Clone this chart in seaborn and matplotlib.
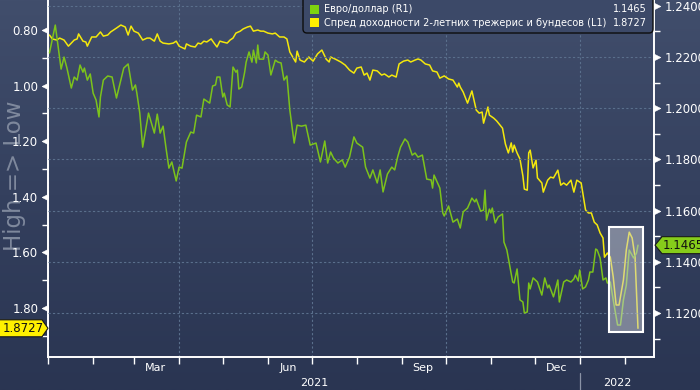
import numpy as np
import pandas as pd
import matplotlib
matplotlib.use("Agg")
import matplotlib.pyplot as plt
import matplotlib.dates as mdates
import matplotlib.transforms as mtransforms
from matplotlib.path import Path
from matplotlib.markers import MarkerStyle
from matplotlib.patches import Polygon, Rectangle, FancyBboxPatch
from matplotlib.colors import LinearSegmentedColormap
from matplotlib.ticker import FixedLocator, FormatStrFormatter, NullFormatter
import seaborn as sns

# ---------------- data ----------------
eur_dates = [
    "2021-01-02", "2021-01-06", "2021-01-10", "2021-01-12", "2021-01-14", "2021-01-17", "2021-01-19",
    "2021-01-21", "2021-01-23", "2021-01-25", "2021-01-26", "2021-01-28", "2021-01-30", "2021-02-01",
    "2021-02-03", "2021-02-05", "2021-02-06", "2021-02-08", "2021-02-11", "2021-02-14", "2021-02-17",
    "2021-02-22", "2021-02-25", "2021-02-28", "2021-03-02", "2021-03-03", "2021-03-05", "2021-03-07",
    "2021-03-09", "2021-03-11", "2021-03-15", "2021-03-17", "2021-03-19", "2021-03-21", "2021-03-23",
    "2021-03-25", "2021-03-27", "2021-03-30", "2021-04-01", "2021-04-03", "2021-04-06", "2021-04-09",
    "2021-04-11", "2021-04-13", "2021-04-16", "2021-04-18", "2021-04-22", "2021-04-24", "2021-04-26",
    "2021-04-27", "2021-04-29", "2021-05-01", "2021-05-02", "2021-05-04", "2021-05-06", "2021-05-08",
    "2021-05-10", "2021-05-11", "2021-05-12", "2021-05-14", "2021-05-16", "2021-05-17", "2021-05-19",
    "2021-05-21", "2021-05-22", "2021-05-24", "2021-05-25", "2021-05-26", "2021-05-29", "2021-05-30",
    "2021-06-01", "2021-06-03", "2021-06-06", "2021-06-08", "2021-06-10", "2021-06-12", "2021-06-14",
    "2021-06-16", "2021-06-19", "2021-06-21", "2021-06-24", "2021-06-27", "2021-06-30", "2021-07-04",
    "2021-07-07", "2021-07-10", "2021-07-12", "2021-07-14", "2021-07-16", "2021-07-19", "2021-07-22",
    "2021-07-24", "2021-07-27", "2021-07-30", "2021-08-01", "2021-08-05", "2021-08-07", "2021-08-10",
    "2021-08-12", "2021-08-15", "2021-08-17", "2021-08-19", "2021-08-22", "2021-08-25", "2021-08-27",
    "2021-08-29", "2021-08-31", "2021-09-03", "2021-09-05", "2021-09-08", "2021-09-10", "2021-09-12",
    "2021-09-15", "2021-09-18", "2021-09-21", "2021-09-22", "2021-09-23", "2021-09-27", "2021-09-29",
    "2021-09-30", "2021-10-03", "2021-10-06", "2021-10-09", "2021-10-11", "2021-10-13", "2021-10-16",
    "2021-10-19", "2021-10-21", "2021-10-22", "2021-10-25", "2021-10-27", "2021-10-28", "2021-10-29",
    "2021-10-31", "2021-11-01", "2021-11-02", "2021-11-04", "2021-11-06", "2021-11-09", "2021-11-10",
    "2021-11-12", "2021-11-16", "2021-11-17", "2021-11-19", "2021-11-21", "2021-11-23", "2021-11-24",
    "2021-11-26", "2021-11-27", "2021-11-28", "2021-11-30", "2021-12-03", "2021-12-06", "2021-12-08",
    "2021-12-10", "2021-12-11", "2021-12-14", "2021-12-17", "2021-12-18", "2021-12-21", "2021-12-23",
    "2021-12-26", "2021-12-28", "2021-12-29", "2021-12-31", "2022-01-01", "2022-01-03", "2022-01-05",
    "2022-01-07", "2022-01-08", "2022-01-10", "2022-01-12", "2022-01-13", "2022-01-15", "2022-01-17",
    "2022-01-19", "2022-01-20", "2022-01-22", "2022-01-24", "2022-01-27", "2022-01-29", "2022-01-31",
    "2022-02-02", "2022-02-04", "2022-02-07", "2022-02-09", "2022-02-10",
]
eur_values = [
    1.2216, 1.2325, 1.2153, 1.2200, 1.2157, 1.2079, 1.2122,
    1.2110, 1.2169, 1.2141, 1.2157, 1.2110, 1.2134, 1.2059,
    1.2032, 1.1966, 1.2044, 1.2110, 1.2126, 1.2122, 1.2040,
    1.2157, 1.2173, 1.2071, 1.2091, 1.2059, 1.1981, 1.1848,
    1.1915, 1.1981, 1.1903, 1.1977, 1.1903, 1.1930, 1.1845,
    1.1766, 1.1790, 1.1716, 1.1770, 1.1766, 1.1868, 1.1907,
    1.1903, 1.1973, 1.1966, 1.2036, 1.2020, 1.2087, 1.2091,
    1.2122, 1.2122, 1.2044, 1.2059, 1.2013, 1.2005, 1.2161,
    1.2141, 1.2149, 1.2075, 1.2083, 1.2141, 1.2180, 1.2220,
    1.2180, 1.2227, 1.2177, 1.2247, 1.2192, 1.2192, 1.2220,
    1.2208, 1.2130, 1.2188, 1.2180, 1.2177, 1.2110, 1.2126,
    1.1993, 1.1864, 1.1934, 1.1930, 1.1934, 1.1856, 1.1864,
    1.1790, 1.1872, 1.1786, 1.1829, 1.1805, 1.1786, 1.1798,
    1.1770, 1.1809, 1.1888, 1.1864, 1.1848, 1.1770, 1.1727,
    1.1759, 1.1708, 1.1759, 1.1673, 1.1743, 1.1770, 1.1759,
    1.1809, 1.1848, 1.1880, 1.1868, 1.1817, 1.1825, 1.1809,
    1.1817, 1.1723, 1.1720, 1.1688, 1.1739, 1.1688, 1.1591,
    1.1579, 1.1618, 1.1555, 1.1567, 1.1532, 1.1595, 1.1610,
    1.1649, 1.1634, 1.1645, 1.1598, 1.1602, 1.1680, 1.1563,
    1.1606, 1.1591, 1.1610, 1.1552, 1.1575, 1.1587, 1.1477,
    1.1446, 1.1321, 1.1317, 1.1372, 1.1251, 1.1243, 1.1200,
    1.1204, 1.1317, 1.1294, 1.1337, 1.1321, 1.1270, 1.1337,
    1.1298, 1.1309, 1.1263, 1.1329, 1.1243, 1.1321, 1.1329,
    1.1321, 1.1333, 1.1348, 1.1325, 1.1368, 1.1294, 1.1302,
    1.1329, 1.1360, 1.1360, 1.1450, 1.1446, 1.1415, 1.1329,
    1.1337, 1.1317, 1.1321, 1.1251, 1.1153, 1.1153, 1.1251,
    1.1309, 1.1446, 1.1415, 1.1434, 1.1465,
]

spread_dates = [
    "2021-01-02", "2021-01-04", "2021-01-07", "2021-01-09", "2021-01-12", "2021-01-15", "2021-01-19",
    "2021-01-21", "2021-01-22", "2021-01-25", "2021-01-27", "2021-01-28", "2021-01-31", "2021-02-03",
    "2021-02-06", "2021-02-08", "2021-02-11", "2021-02-13", "2021-02-17", "2021-02-20", "2021-02-23",
    "2021-02-25", "2021-02-27", "2021-03-01", "2021-03-04", "2021-03-07", "2021-03-10", "2021-03-12",
    "2021-03-15", "2021-03-17", "2021-03-19", "2021-03-21", "2021-03-25", "2021-03-28", "2021-03-30",
    "2021-04-01", "2021-04-05", "2021-04-06", "2021-04-09", "2021-04-12", "2021-04-14", "2021-04-16",
    "2021-04-18", "2021-04-20", "2021-04-23", "2021-04-25", "2021-04-27", "2021-04-29", "2021-05-01",
    "2021-05-04", "2021-05-06", "2021-05-08", "2021-05-10", "2021-05-13", "2021-05-15", "2021-05-18",
    "2021-05-20", "2021-05-22", "2021-05-25", "2021-05-27", "2021-05-29", "2021-06-01", "2021-06-04",
    "2021-06-06", "2021-06-09", "2021-06-12", "2021-06-14", "2021-06-16", "2021-06-20", "2021-06-21",
    "2021-06-23", "2021-06-26", "2021-06-29", "2021-07-02", "2021-07-05", "2021-07-08", "2021-07-11",
    "2021-07-13", "2021-07-14", "2021-07-17", "2021-07-21", "2021-07-24", "2021-07-27", "2021-07-30",
    "2021-08-01", "2021-08-04", "2021-08-06", "2021-08-08", "2021-08-10", "2021-08-12", "2021-08-15",
    "2021-08-18", "2021-08-20", "2021-08-23", "2021-08-25", "2021-08-28", "2021-08-30", "2021-09-02",
    "2021-09-05", "2021-09-07", "2021-09-10", "2021-09-12", "2021-09-14", "2021-09-17", "2021-09-20",
    "2021-09-22", "2021-09-25", "2021-09-27", "2021-09-30", "2021-10-03", "2021-10-06", "2021-10-09",
    "2021-10-10", "2021-10-11", "2021-10-13", "2021-10-16", "2021-10-19", "2021-10-22", "2021-10-24",
    "2021-10-26", "2021-10-27", "2021-10-30", "2021-10-31", "2021-11-03", "2021-11-05", "2021-11-09",
    "2021-11-11", "2021-11-13", "2021-11-15", "2021-11-16", "2021-11-17", "2021-11-19", "2021-11-21",
    "2021-11-23", "2021-11-24", "2021-11-26", "2021-11-27", "2021-11-28", "2021-11-30", "2021-12-02",
    "2021-12-03", "2021-12-06", "2021-12-07", "2021-12-10", "2021-12-12", "2021-12-14", "2021-12-17",
    "2021-12-19", "2021-12-21", "2021-12-23", "2021-12-26", "2021-12-28", "2021-12-30", "2022-01-02",
    "2022-01-05", "2022-01-07", "2022-01-09", "2022-01-11", "2022-01-13", "2022-01-15", "2022-01-17",
    "2022-01-18", "2022-01-20", "2022-01-22", "2022-01-24", "2022-01-26", "2022-01-28", "2022-01-31",
    "2022-02-02", "2022-02-04", "2022-02-06", "2022-02-08", "2022-02-10",
]
spread_values = [
    0.818, 0.832, 0.836, 0.829, 0.836, 0.858, 0.836,
    0.832, 0.814, 0.840, 0.843, 0.858, 0.825, 0.825,
    0.807, 0.822, 0.818, 0.807, 0.793, 0.782, 0.789,
    0.818, 0.786, 0.804, 0.811, 0.836, 0.829, 0.829,
    0.840, 0.814, 0.840, 0.847, 0.850, 0.847, 0.840,
    0.858, 0.868, 0.850, 0.858, 0.861, 0.847, 0.850,
    0.840, 0.843, 0.832, 0.847, 0.861, 0.840, 0.843,
    0.847, 0.836, 0.829, 0.811, 0.804, 0.796, 0.789,
    0.786, 0.804, 0.800, 0.804, 0.804, 0.811, 0.814,
    0.811, 0.825, 0.825, 0.832, 0.879, 0.915, 0.876,
    0.908, 0.915, 0.897, 0.912, 0.886, 0.872, 0.905,
    0.915, 0.897, 0.904, 0.915, 0.926, 0.944, 0.955,
    0.937, 0.933, 0.962, 0.955, 0.980, 0.944, 0.947,
    0.962, 0.958, 0.969, 0.962, 0.969, 0.922, 0.912,
    0.908, 0.915, 0.908, 0.904, 0.908, 0.922, 0.926,
    0.947, 0.951, 0.973, 0.965, 0.976, 0.980, 1.005,
    0.991, 1.005, 1.023, 1.063, 1.019, 1.088, 1.099,
    1.095, 1.135, 1.077, 1.106, 1.117, 1.127, 1.153,
    1.210, 1.242, 1.206, 1.239, 1.214, 1.242, 1.264,
    1.325, 1.372, 1.376, 1.242, 1.232, 1.296, 1.268,
    1.332, 1.350, 1.383, 1.340, 1.329, 1.332, 1.304,
    1.358, 1.350, 1.358, 1.340, 1.383, 1.340, 1.350,
    1.447, 1.458, 1.458, 1.491, 1.501, 1.530, 1.548,
    1.617, 1.602, 1.617, 1.688, 1.789, 1.789, 1.699,
    1.591, 1.527, 1.548, 1.617, 1.8727,
]

eur_label = "Евро/доллар (R1)"
spread_label = "Спред доходности 2-летних трежерис и бундесов (L1)"
eur_last_text = "1.1465"
spread_last_text = "1.8727"
axis_title = "High => Low"

left_major = [0.80, 1.00, 1.20, 1.40, 1.60, 1.80]
left_minor = [0.90, 1.10, 1.30, 1.50, 1.70, 1.90]
right_major = [1.12, 1.14, 1.16, 1.18, 1.20, 1.22, 1.24]
right_minor = [1.11, 1.13, 1.15, 1.17, 1.19, 1.21, 1.23]
month_labels = ["Mar", "Jun", "Sep", "Dec"]
month_label_pos = ["2021-03-16", "2021-06-15", "2021-09-15", "2021-12-16"]
year_labels = ["2021", "2022"]
year_break = "2022-01-01"
x_start, x_end = "2021-01-01", "2022-02-21"

# ---------------- style ----------------
sns.set_theme(style="white")
plt.rcParams["font.family"] = ["DejaVu Sans"]

W, H = 700, 390
YELLOW = "#f4e80c"
GREEN = "#7cc31b"
GRID = "#5a6f8c"
WHITE = "#ffffff"

eur_df = pd.DataFrame({"date": pd.to_datetime(eur_dates), "value": eur_values})
spr_df = pd.DataFrame({"date": pd.to_datetime(spread_dates), "value": spread_values})

fig = plt.figure(figsize=(W / 100, H / 100), dpi=100)
fig.patch.set_facecolor("#333f5c")

# gradient background
bgax = fig.add_axes([0, 0, 1, 1], zorder=-10)
grad = np.linspace(0, 1, 256).reshape(-1, 1)
cmap = LinearSegmentedColormap.from_list("bg", ["#2a3552", "#34405e", "#414e6c"])
bgax.imshow(grad, aspect="auto", cmap=cmap, origin="lower", extent=[0, 1, 0, 1])
bgax.axis("off")

ax = fig.add_axes([48 / W, 1 - 357 / H, 606 / W, 357 / H])
ax.set_facecolor("none")
ax2 = ax.twinx()
ax2.set_facecolor("none")

sns.lineplot(data=spr_df, x="date", y="value", ax=ax, color=YELLOW, linewidth=1.1, estimator=None)
sns.lineplot(data=eur_df, x="date", y="value", ax=ax2, color=GREEN, linewidth=1.1, estimator=None)

ax.set_xlim(pd.Timestamp(x_start), pd.Timestamp(x_end))
ax.set_ylim(1.976, 0.692)
ax2.set_ylim(1.1028, 1.2423)
for a in (ax, ax2):
    a.set_xlabel("")
    a.set_ylabel("")

# spines
for a in (ax, ax2):
    for s in a.spines.values():
        s.set_visible(False)
ax.spines["left"].set_visible(True)
ax.spines["bottom"].set_visible(True)
ax2.spines["right"].set_visible(True)
for s in (ax.spines["left"], ax.spines["bottom"], ax2.spines["right"]):
    s.set_color(WHITE)
    s.set_linewidth(1.4)

# x axis ticks
ax.xaxis.set_major_locator(mdates.MonthLocator(bymonth=[1, 4, 7, 10]))
ax.xaxis.set_minor_locator(mdates.MonthLocator())
ax.xaxis.set_major_formatter(NullFormatter())
ax.xaxis.set_minor_formatter(NullFormatter())
ax.tick_params(axis="x", which="both", direction="out", length=5, width=1, color=WHITE, bottom=True)
ax.grid(axis="x", which="major", color=GRID, linestyle=(0, (2, 2)), linewidth=0.8)
ax.grid(axis="y", visible=False)

xt = mtransforms.blended_transform_factory(ax.transData, ax.transAxes)
for lab, pos in zip(month_labels, month_label_pos):
    ax.text(pd.Timestamp(pos), -0.030, lab, transform=xt, ha="center", va="center",
            fontsize=8, color=WHITE, clip_on=False)
xs, xb, xe = mdates.date2num(pd.Timestamp(x_start)), mdates.date2num(pd.Timestamp(year_break)), mdates.date2num(pd.Timestamp(x_end))
ax.text((xs + xb) / 2, -0.074, year_labels[0], transform=xt, ha="center", va="center",
        fontsize=8, color=WHITE, clip_on=False)
ax.text((xb + xe) / 2, -0.074, year_labels[1], transform=xt, ha="center", va="center",
        fontsize=8, color=WHITE, clip_on=False)
ax.plot([xb, xb], [-0.045, -0.10], transform=xt, color="#8a93a6", lw=0.9, clip_on=False)

# left axis ticks
ax.yaxis.set_major_locator(FixedLocator(left_major))
ax.yaxis.set_minor_locator(FixedLocator(left_minor))
ax.yaxis.set_major_formatter(FormatStrFormatter("%.2f"))
ax.tick_params(axis="y", which="major", left=True, length=0, pad=7, labelsize=8.5, labelcolor=WHITE)
ax.tick_params(axis="y", which="minor", left=True, direction="out", length=4, width=1, color=WHITE)

# right axis ticks
ax2.yaxis.set_major_locator(FixedLocator(right_major))
ax2.yaxis.set_minor_locator(FixedLocator(right_minor))
ax2.yaxis.set_major_formatter(FormatStrFormatter("%.4f"))
ax2.tick_params(axis="y", which="major", right=True, length=0, pad=8, labelsize=8.5, labelcolor=WHITE)
ax2.tick_params(axis="y", which="minor", right=True, direction="out", length=4, width=1, color=WHITE)
ax2.grid(axis="y", which="major", color=GRID, linestyle=(0, (2, 2)), linewidth=0.8)
ax2.grid(axis="x", visible=False)

codes = [Path.MOVETO, Path.LINETO, Path.LINETO, Path.CLOSEPOLY]
tri_left = Path([(0, 0.5), (-1, 0), (0, -0.5), (0, 0.5)], codes)
tri_right = Path([(0, 0.5), (1, 0), (0, -0.5), (0, 0.5)], codes)
for t in ax.yaxis.get_major_ticks():
    t.tick1line.set_marker(MarkerStyle(tri_left))
    t.tick1line.set_markersize(9)
    t.tick1line.set_markerfacecolor(WHITE)
    t.tick1line.set_markeredgecolor(WHITE)
    t.tick1line.set_markeredgewidth(0.5)
for t in ax2.yaxis.get_major_ticks():
    t.tick2line.set_marker(MarkerStyle(tri_right))
    t.tick2line.set_markersize(9)
    t.tick2line.set_markerfacecolor(WHITE)
    t.tick2line.set_markeredgecolor(WHITE)
    t.tick2line.set_markeredgewidth(0.5)

# highlight box over last weeks
ax2.add_patch(Rectangle((0.9257, 0.070), 0.0561, 0.294, transform=ax2.transAxes,
                        facecolor=(0.80, 0.81, 0.85, 0.5), edgecolor=WHITE, linewidth=1.5,
                        zorder=5, clip_on=False))

# vertical title
fig.text(15 / W, 1 - 176 / H, axis_title, rotation=90, ha="center", va="center",
         fontsize=16.5, color="#7f899d", zorder=-5)

# value tags
ident = mtransforms.IdentityTransform()
x0num = ax.get_xlim()[0]
gy = ax2.transData.transform((x0num, eur_values[-1]))[1]
gx = ax2.transAxes.transform((1, 0))[0]
fig.add_artist(Polygon([(gx + 1, gy), (gx + 8, gy + 8.5), (W + 2, gy + 8.5), (W + 2, gy - 8.5), (gx + 8, gy - 8.5)],
                       closed=True, transform=ident, facecolor="#86cc1a", edgecolor="#1a1a1a",
                       linewidth=0.8, zorder=20))
fig.text((gx + 9) / W, gy / H, eur_last_text, ha="left", va="center", fontsize=8.5, color="#111111", zorder=21)

yy = ax.transData.transform((x0num, spread_values[-1]))[1]
yx = ax.transAxes.transform((0, 0))[0]
fig.add_artist(Polygon([(-2, yy + 8.5), (yx - 6, yy + 8.5), (yx, yy), (yx - 6, yy - 8.5), (-2, yy - 8.5)],
                       closed=True, transform=ident, facecolor="#fff000", edgecolor="#1a1a1a",
                       linewidth=0.8, zorder=20))
fig.text((yx - 25) / W, yy / H, spread_last_text, ha="center", va="center", fontsize=8.5, color="#111111", zorder=21)

# legend box
fig.add_artist(FancyBboxPatch((303, H - 33), 350, 45, boxstyle="round,pad=0,rounding_size=4",
                              transform=ident, facecolor="#3c4968", edgecolor="#0d0d0d",
                              linewidth=1.0, zorder=20))
for row, (lab, col, val) in enumerate([(eur_label, "#7ed30f", eur_last_text),
                                       (spread_label, "#fff000", spread_last_text)]):
    cy = H - 9.5 - row * 13
    fig.add_artist(Rectangle((310, cy - 4.5), 9, 9, transform=ident, facecolor=col,
                             edgecolor="none", zorder=21))
    fig.text(324 / W, cy / H, lab, ha="left", va="center", fontsize=7, color=WHITE, zorder=22)
    fig.text(647 / W, cy / H, val, ha="right", va="center", fontsize=7, color=WHITE, zorder=22)

fig.savefig("out.png", dpi=100)
